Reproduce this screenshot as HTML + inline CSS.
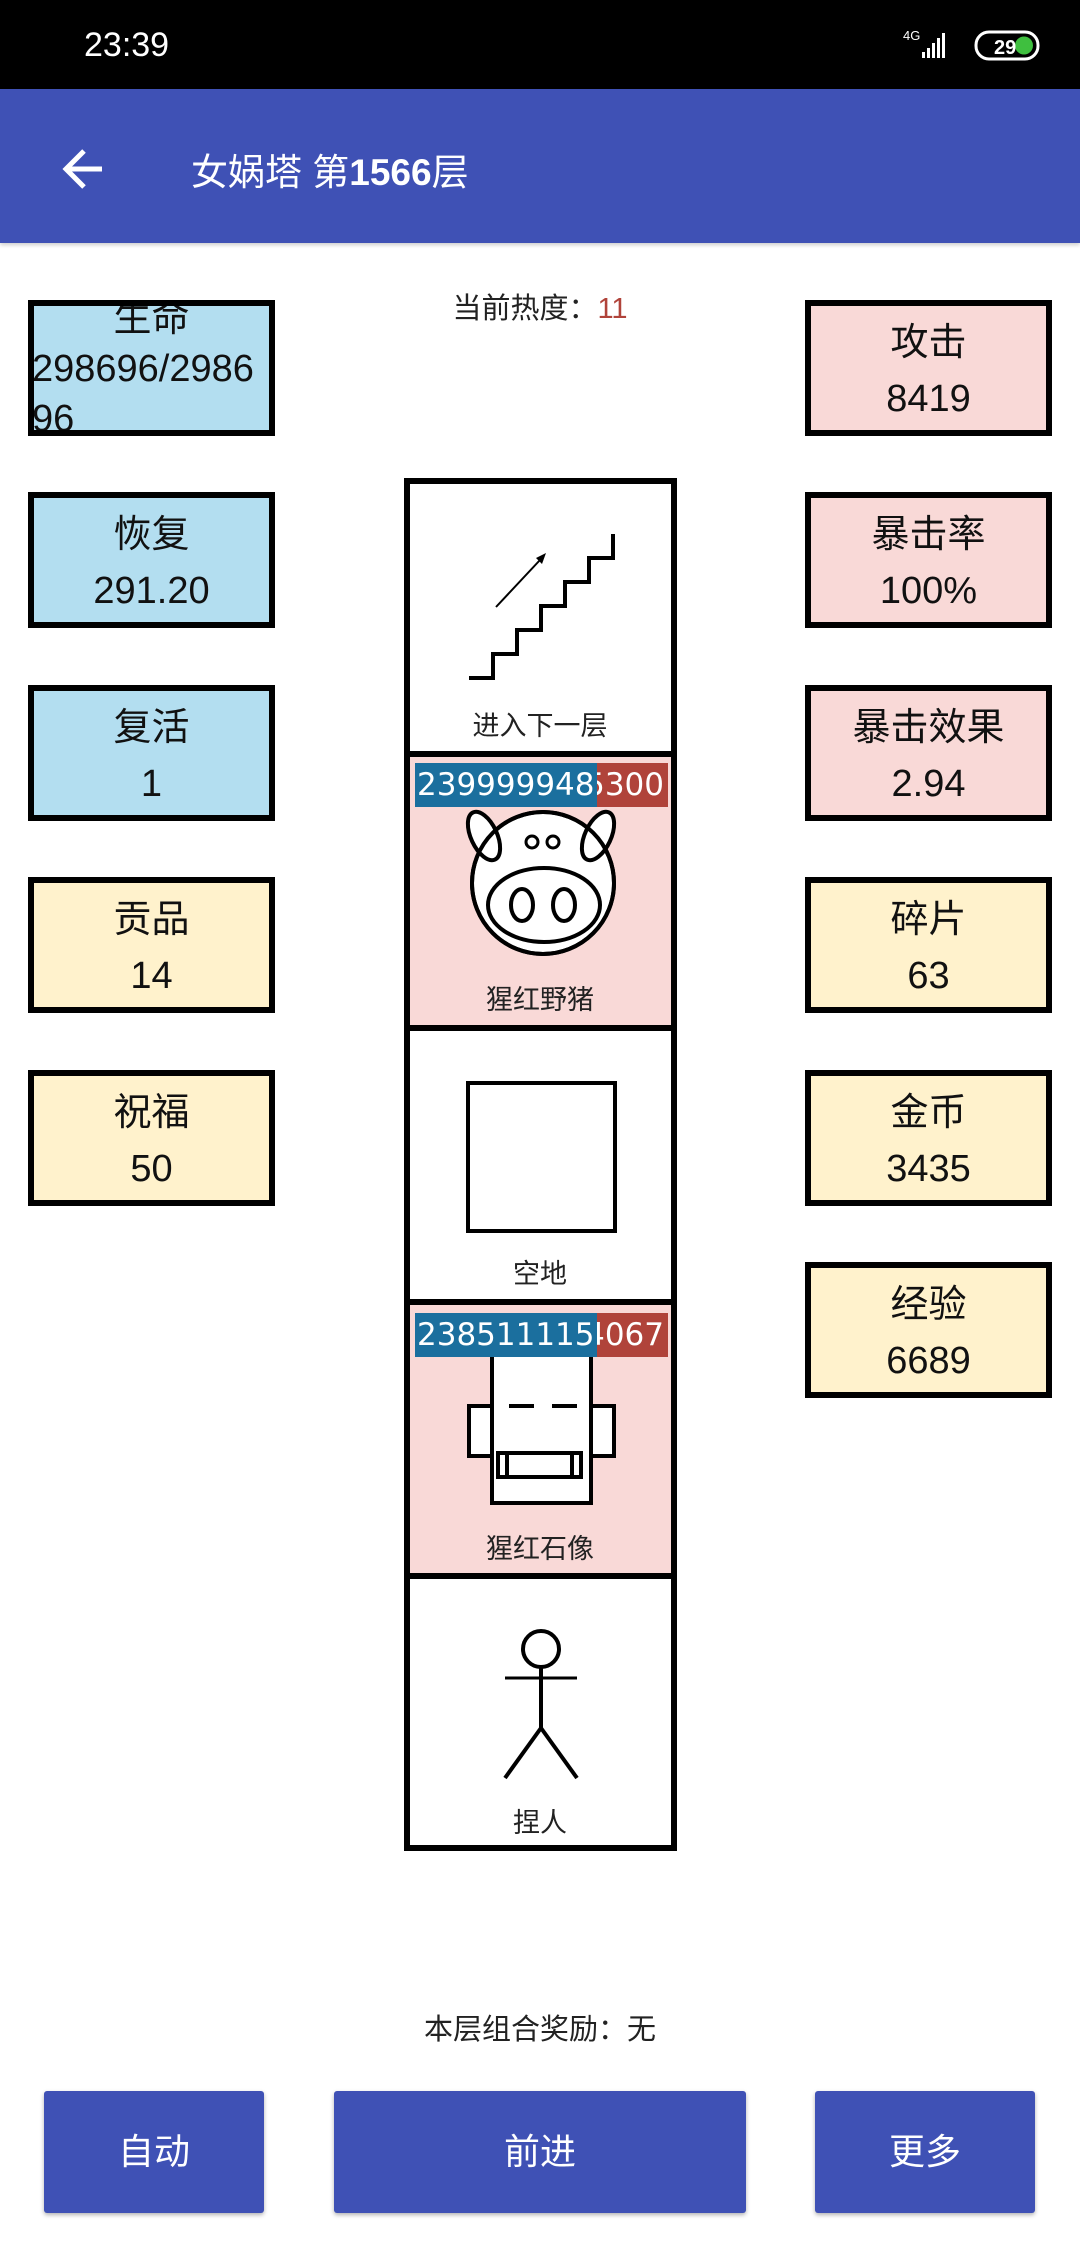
<!DOCTYPE html>
<html><head><meta charset="utf-8"><style>
*{margin:0;padding:0;box-sizing:border-box}
body{width:1080px;height:2248px;background:#fff;position:relative;overflow:hidden;font-family:"Liberation Sans","Noto Sans CJK SC",sans-serif}
.abs{position:absolute}
.box{position:absolute;width:247px;height:136px;border:6px solid #000;text-align:center;font-size:38px;color:#111;line-height:56px;overflow:hidden;padding-top:9px}
.b{background:#b3def0}.p{background:#f9d9d7}.y{background:#fff2cc}
.btn{position:absolute;top:2091px;height:122px;background:#3f51b5;color:#fff;font-size:36px;text-align:center;line-height:122px;border-radius:3px;box-shadow:0 2px 4px rgba(0,0,0,.3)}
.lbl{position:absolute;left:410px;width:260px;text-align:center;font-size:27px;color:#222}
.bar{position:absolute;left:415px;width:253px;height:44px;background:#b0433a;color:#fff;font-size:31px;line-height:44px;overflow:hidden;font-family:"DejaVu Sans",sans-serif}
.bar .bl{position:absolute;left:0;top:0;height:44px;width:182px;background:#1b6f9e;overflow:hidden;white-space:nowrap;padding-left:2px}
.bar .rd{position:absolute;right:4px;top:0}
</style></head><body>
<div class="abs" style="left:0;top:0;width:1080px;height:89px;background:#000"></div>
<div class="abs" style="left:84px;top:26px;color:#fff;font-size:34px">23:39</div>
<div class="abs" style="left:903px;top:28px;color:#fff;font-size:13px">4G</div>
<svg class="abs" style="left:900px;top:28px" width="140" height="36">
<rect x="22" y="24" width="3" height="6" fill="#fff"/><rect x="27" y="20" width="3" height="10" fill="#fff"/><rect x="32" y="15" width="3" height="15" fill="#fff"/><rect x="37" y="10" width="3" height="20" fill="#fff"/><rect x="42" y="5" width="3" height="25" fill="#fff"/>
<rect x="76" y="4" width="62" height="27" rx="13" fill="none" stroke="#fff" stroke-width="3"/>
<circle cx="124" cy="17.5" r="9" fill="#3fbf3f"/>
<text x="94" y="26" fill="#fff" font-size="20" font-weight="bold" font-family="Liberation Sans">29</text>
</svg>
<div class="abs" style="left:0;top:89px;width:1080px;height:154px;background:#3f51b5;box-shadow:0 2px 4px rgba(0,0,0,.2)"></div>
<svg class="abs" style="left:58px;top:145px" width="52" height="48"><path d="M44 24H8M26 6L8 24l18 18" stroke="#fff" stroke-width="5" fill="none"/></svg>
<div class="abs" style="left:191px;top:142px;color:#fff;font-size:37px">女娲塔 第<b>1566</b>层</div>

<div class="abs" style="left:0;width:1080px;top:285px;text-align:center;font-size:29px;color:#222">当前热度：<span style="color:#b0433a">11</span></div>

<div class="box b" style="left:28px;top:300px;padding-top:0;line-height:50px;font-size:38px"><div style="margin-top:-12px">生命</div><div style="text-align:left;margin-left:-2px">298696/2986<br>96</div></div>
<div class="box b" style="left:28px;top:492px">恢复<br>291.20</div>
<div class="box b" style="left:28px;top:685px">复活<br>1</div>
<div class="box y" style="left:28px;top:877px">贡品<br>14</div>
<div class="box y" style="left:28px;top:1070px">祝福<br>50</div>

<div class="box p" style="left:805px;top:300px">攻击<br>8419</div>
<div class="box p" style="left:805px;top:492px">暴击率<br>100%</div>
<div class="box p" style="left:805px;top:685px">暴击效果<br>2.94</div>
<div class="box y" style="left:805px;top:877px">碎片<br>63</div>
<div class="box y" style="left:805px;top:1070px">金币<br>3435</div>
<div class="box y" style="left:805px;top:1262px">经验<br>6689</div>

<!-- column -->
<div class="abs" style="left:404px;top:478px;width:273px;height:1373px;border:6px solid #000;background:#fff"></div>
<div class="abs" style="left:410px;top:756px;width:261px;height:270px;background:#f9d9d7"></div>
<div class="abs" style="left:410px;top:1305px;width:261px;height:270px;background:#f9d9d7"></div>
<div class="abs" style="left:404px;top:751px;width:273px;height:6px;background:#000"></div>
<div class="abs" style="left:404px;top:1025px;width:273px;height:6px;background:#000"></div>
<div class="abs" style="left:404px;top:1299px;width:273px;height:6px;background:#000"></div>
<div class="abs" style="left:404px;top:1573px;width:273px;height:6px;background:#000"></div>

<svg class="abs" style="left:0;top:0" width="1080" height="2248">
<g fill="none" stroke="#000" stroke-width="4">
<polyline points="469,678 493,678 493,654 517,654 517,630 541,630 541,606 565,606 565,582 589,582 589,558 613,558 613,534"/>
</g>
<line x1="496" y1="607" x2="540" y2="560" stroke="#000" stroke-width="2"/>
<path d="M546 553 L536 558 L542 564 Z" fill="#000"/>
<g stroke="#000" stroke-width="4" fill="#fff">
<ellipse cx="543" cy="883" rx="71" ry="71"/>
<ellipse cx="484" cy="836" rx="13" ry="26" transform="rotate(-25 484 836)"/>
<ellipse cx="598" cy="836" rx="13" ry="26" transform="rotate(25 598 836)"/>
<ellipse cx="543" cy="883" rx="71" ry="71" fill="none"/>
<circle cx="532" cy="842" r="6" stroke-width="3"/><circle cx="553" cy="842" r="6" stroke-width="3"/>
<ellipse cx="544" cy="905" rx="56" ry="37"/>
<ellipse cx="522" cy="905" rx="11" ry="16"/><ellipse cx="564" cy="905" rx="11" ry="16"/>
<rect x="468" y="1083" width="147" height="148"/>
<rect x="469" y="1406" width="24" height="50"/><rect x="590" y="1406" width="24" height="50"/>
<rect x="492" y="1348" width="99" height="155"/>
<rect x="498" y="1453" width="83" height="24"/>
<circle cx="541" cy="1649" r="18"/>
</g>
<g stroke="#000" stroke-width="4">
<line x1="509" y1="1406" x2="534" y2="1406"/><line x1="552" y1="1406" x2="577" y2="1406"/>
<line x1="507" y1="1453" x2="507" y2="1477"/><line x1="572" y1="1453" x2="572" y2="1477"/>
<line x1="541" y1="1667" x2="541" y2="1728"/>
<line x1="505" y1="1678" x2="577" y2="1678" stroke-width="3"/>
<line x1="541" y1="1728" x2="505" y2="1778"/><line x1="541" y1="1728" x2="577" y2="1778"/>
</g>
</svg>

<div class="bar" style="top:763px"><span class="rd">5300</span><div class="bl">239999948</div></div>
<div class="bar" style="top:1313px"><span class="rd">4067</span><div class="bl">238511115</div></div>

<div class="lbl" style="top:704px">进入下一层</div>
<div class="lbl" style="top:978px">猩红野猪</div>
<div class="lbl" style="top:1252px">空地</div>
<div class="lbl" style="top:1527px">猩红石像</div>
<div class="lbl" style="top:1801px">捏人</div>

<div class="abs" style="left:0;width:1080px;top:2006px;text-align:center;font-size:29px;color:#222">本层组合奖励：无</div>
<div class="btn" style="left:44px;width:220px">自动</div>
<div class="btn" style="left:334px;width:412px">前进</div>
<div class="btn" style="left:815px;width:220px">更多</div>
</body></html>
